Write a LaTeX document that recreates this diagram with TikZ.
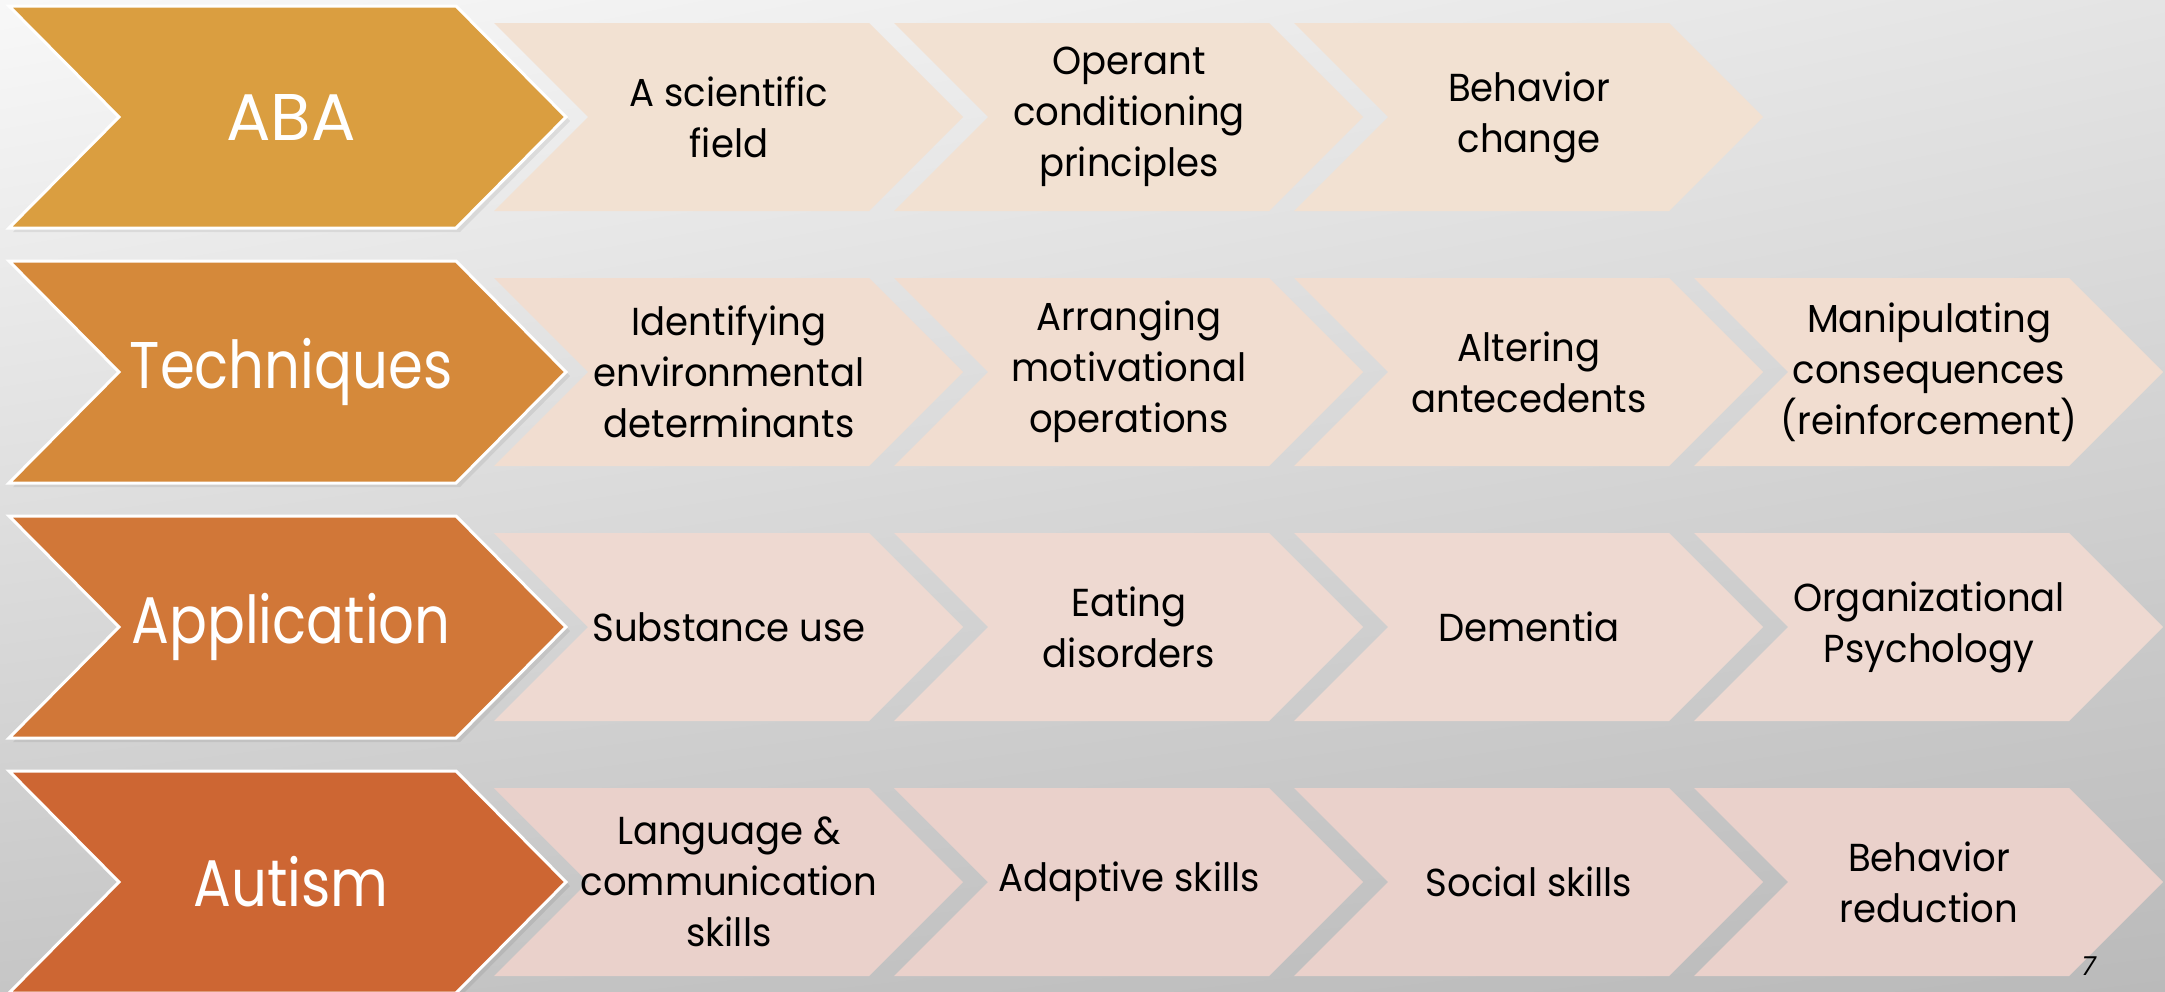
\documentclass[tikz,border=0pt]{standalone}
\usepackage{fontspec}
\setmainfont{Poppins}
\newfontfamily\bigfnt[FakeStretch=0.85]{Poppins}
\newfontfamily\smfnt[FakeStretch=0.95]{Poppins}
\newfontfamily\slfnt[FakeSlant=0.2]{Poppins}
\usetikzlibrary{shadings}
\newcommand{\ChevShape}[6]{%
  \path[#6] (#1,#2-#3) -- (#1+#4,#2-#3) -- (#1+#4+#5,#2) -- (#1+#4,#2+#3) -- (#1,#2+#3) -- (#1+#5,#2) -- cycle;}
\definecolor{cA}{RGB}{218,158,64}
\definecolor{cB}{RGB}{213,137,58}
\definecolor{cC}{RGB}{209,119,56}
\definecolor{cD}{RGB}{205,102,51}
\definecolor{lA}{RGB}{242,225,210}
\definecolor{lB}{RGB}{241,221,208}
\definecolor{lC}{RGB}{238,217,209}
\definecolor{lD}{RGB}{234,209,203}
\definecolor{bgUL}{RGB}{248,248,248}
\definecolor{bgUR}{RGB}{228,228,228}
\definecolor{bgLL}{RGB}{198,198,198}
\definecolor{bgLR}{RGB}{186,186,186}
\begin{document}
\begin{tikzpicture}[x=1pt,y=-1pt,
  bigchev/.style={draw=white,line width=3pt,line join=miter,fill=#1},
  bigshadow/.style={fill=black,opacity=0.07},
  smallchev/.style={fill=#1},
  bigtxt/.style={text=white,font=\bigfnt\fontsize{66}{70}\selectfont,inner sep=0pt},
  smalltxt/.style={text=black,align=center,font=\smfnt\fontsize{39}{51}\selectfont,inner sep=0pt},
  pagenum/.style={text=black,font=\slfnt\fontsize{26}{30}\selectfont,inner sep=0pt}]
\useasboundingbox (0,0) rectangle (2165,991);
\shade[upper left=bgUL,upper right=bgUR,lower left=bgLL,lower right=bgLR]
  (0,0) rectangle (2165,991);
% row 1
\foreach \j in {0,1,2} {\ChevShape{494+400*\j}{117}{94}{375}{94}{smallchev=lA}}
\ChevShape{13}{121}{111}{447}{110}{bigshadow}
\ChevShape{9}{117}{111}{447}{110}{bigchev=cA}
% row 2
\foreach \j in {0,1,2,3} {\ChevShape{494+400*\j}{372}{94}{375}{94}{smallchev=lB}}
\ChevShape{13}{376}{111}{447}{110}{bigshadow}
\ChevShape{9}{372}{111}{447}{110}{bigchev=cB}
% row 3
\foreach \j in {0,1,2,3} {\ChevShape{494+400*\j}{627}{94}{375}{94}{smallchev=lC}}
\ChevShape{13}{631}{111}{447}{110}{bigshadow}
\ChevShape{9}{627}{111}{447}{110}{bigchev=cC}
% row 4
\foreach \j in {0,1,2,3} {\ChevShape{494+400*\j}{882}{94}{375}{94}{smallchev=lD}}
\ChevShape{13}{886}{111}{447}{110}{bigshadow}
\ChevShape{9}{882}{111}{447}{110}{bigchev=cD}
% texts
\node[bigtxt,font=\fontsize{66}{70}\selectfont] (aba) at (291,117) {ABA};
\node[bigtxt] (tech) at (291,372) {Techniques};
\node[bigtxt] (appl) at (291,627) {Application};
\node[bigtxt] (aut) at (291,882) {Autism};
\node[smalltxt] (a1) at (729,117) {A scientific\\field};
\node[smalltxt] (a2) at (1129,117) {Operant\\conditioning\\principles};
\node[smalltxt] (a3) at (1529,117) {Behavior\\change};
\node[smalltxt] (t1) at (729,372) {Identifying\\environmental\\determinants};
\node[smalltxt] (t2) at (1129,372) {Arranging\\motivational\\operations};
\node[smalltxt] (t3) at (1529,372) {Altering\\antecedents};
\node[smalltxt] (t4) at (1929,372) {Manipulating\\consequences\\(reinforcement)};
\node[smalltxt] (p1) at (729,627) {Substance use};
\node[smalltxt] (p2) at (1129,627) {Eating\\disorders};
\node[smalltxt] (p3) at (1529,627) {Dementia};
\node[smalltxt] (p4) at (1929,627) {Organizational\\Psychology};
\node[smalltxt] (u1) at (729,882) {Language \&\\communication\\skills};
\node[smalltxt] (u2) at (1129,882) {Adaptive skills};
\node[smalltxt] (u3) at (1529,882) {Social skills};
\node[smalltxt] (u4) at (1929,882) {Behavior\\reduction};
\node[pagenum] (pg) at (2087,966) {7};
\end{tikzpicture}
\end{document}
